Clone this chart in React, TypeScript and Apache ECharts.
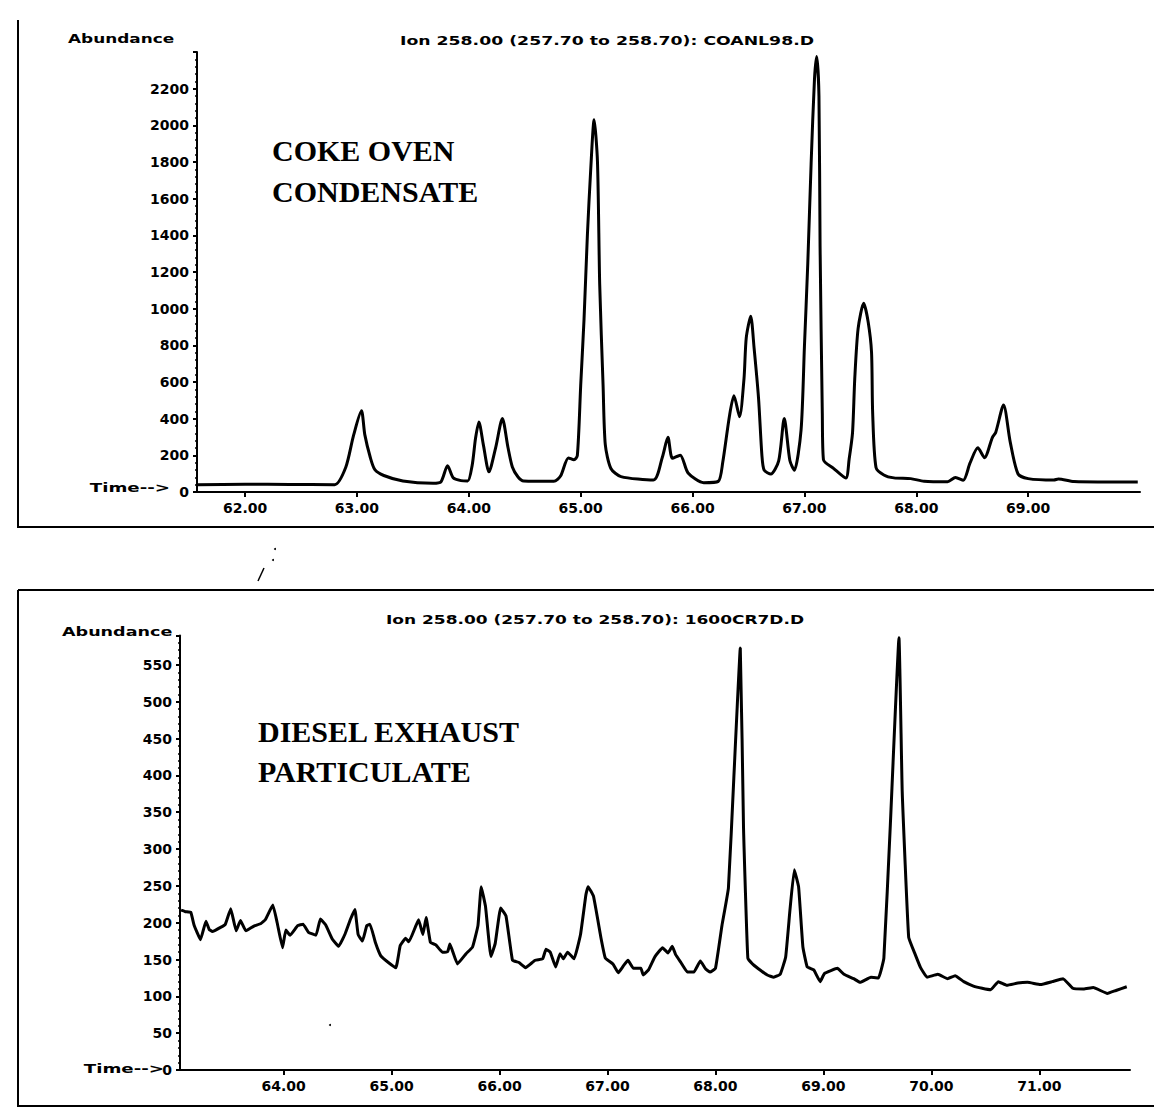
import React, { useEffect, useRef } from "react";
import * as echarts from "echarts";

// Coke oven condensate, ion 258 trace: retention time (min) and abundance
const cokeTime = [
  61.57, 62.0, 62.4, 62.8, 62.9, 62.97, 63.04, 63.07, 63.12, 63.16, 63.24, 63.41, 63.68,
  63.75, 63.81, 63.86, 63.93, 63.99, 64.03, 64.06, 64.09, 64.13, 64.18, 64.24, 64.3, 64.35,
  64.39, 64.44, 64.49, 64.76, 64.82, 64.89, 64.94, 64.97, 65.0, 65.03, 65.06, 65.09, 65.12,
  65.15, 65.17, 65.2, 65.22, 65.27, 65.36, 65.65, 65.73, 65.78, 65.82, 65.89, 65.96, 66.1,
  66.23, 66.27, 66.33, 66.37, 66.42, 66.46, 66.48, 66.52, 66.55, 66.59, 66.62, 66.64, 66.7,
  66.77, 66.82, 66.87, 66.91, 66.97, 67.0, 67.03, 67.06, 67.09, 67.11, 67.13, 67.14, 67.16,
  67.17, 67.26, 67.37, 67.4, 67.43, 67.45, 67.48, 67.53, 67.57, 67.6, 67.61, 67.64, 67.71,
  67.8, 67.95, 68.07, 68.28, 68.35, 68.42, 68.48, 68.55, 68.61, 68.68, 68.71, 68.78, 68.84,
  68.91, 69.0, 69.23, 69.27, 69.41, 69.98,
];
const cokeAbund = [
  40, 42, 41, 40, 135, 310, 443, 313, 187, 122, 90, 60, 48,
  55, 143, 78, 62, 60, 146, 293, 382, 257, 110, 242, 401, 243,
  135, 82, 60, 58, 87, 186, 176, 198, 580, 943, 1403, 1763, 2031,
  1803, 1131, 585, 258, 128, 84, 65, 190, 298, 184, 201, 104, 51,
  58, 162, 415, 525, 411, 619, 841, 959, 786, 511, 200, 119, 98,
  170, 401, 172, 118, 337, 791, 1245, 1792, 2252, 2375, 2160, 1340, 428,
  177, 129, 76, 180, 322, 617, 891, 1029, 927, 762, 434, 134, 93,
  77, 73, 59, 56, 79, 64, 157, 241, 187, 297, 325, 474, 272,
  98, 73, 65, 71, 57, 54,
];

// Diesel exhaust particulate, ion 258 trace
const dieselTime = [
  63.05, 63.09, 63.14, 63.17, 63.23, 63.28, 63.31, 63.34, 63.42, 63.46, 63.51, 63.56, 63.6,
  63.65, 63.72, 63.79, 63.83, 63.9, 63.94, 63.99, 64.02, 64.06, 64.13, 64.18, 64.23, 64.3,
  64.34, 64.39, 64.45, 64.51, 64.57, 64.62, 64.66, 64.69, 64.73, 64.77, 64.8, 64.85, 64.9,
  64.97, 65.04, 65.08, 65.13, 65.16, 65.22, 65.25, 65.29, 65.32, 65.36, 65.41, 65.47, 65.52,
  65.54, 65.61, 65.69, 65.75, 65.8, 65.83, 65.87, 65.92, 65.96, 66.01, 66.06, 66.12, 66.18,
  66.24, 66.33, 66.4, 66.43, 66.47, 66.52, 66.56, 66.59, 66.63, 66.69, 66.75, 66.8, 66.82,
  66.87, 66.94, 66.98, 67.05, 67.1, 67.15, 67.19, 67.24, 67.31, 67.33, 67.38, 67.44, 67.51,
  67.56, 67.6, 67.63, 67.68, 67.74, 67.8, 67.86, 67.91, 67.95, 68.0, 68.06, 68.12, 68.17,
  68.23, 68.26, 68.3, 68.35, 68.42, 68.48, 68.54, 68.6, 68.65, 68.69, 68.73, 68.77, 68.81,
  68.85, 68.91, 68.97, 69.01, 69.13, 69.19, 69.28, 69.34, 69.44, 69.51, 69.56, 69.62, 69.7,
  69.73, 69.79, 69.85, 69.9, 69.96, 70.06, 70.15, 70.22, 70.3, 70.39, 70.47, 70.55, 70.62,
  70.7, 70.8, 70.89, 71.01, 71.12, 71.22, 71.31, 71.41, 71.5, 71.63, 71.71, 71.81,
];
const dieselAbund = [
  217, 215, 214, 197, 177, 202, 191, 188, 194, 198, 219, 189, 203,
  189, 195, 199, 204, 224, 200, 166, 190, 183, 196, 198, 187, 183,
  205, 197, 178, 168, 185, 205, 218, 184, 175, 196, 198, 173, 155,
  146, 139, 169, 179, 174, 194, 204, 184, 207, 173, 170, 160, 161,
  171, 144, 158, 167, 196, 249, 222, 154, 172, 220, 209, 149, 146,
  139, 149, 151, 164, 160, 140, 158, 151, 160, 151, 184, 238, 249,
  236, 179, 152, 144, 132, 142, 149, 138, 138, 129, 136, 154, 166,
  159, 168, 157, 146, 133, 133, 148, 137, 133, 138, 196, 247, 396,
  573, 329, 152, 143, 135, 129, 126, 130, 153, 217, 272, 249, 167,
  140, 136, 120, 131, 138, 130, 124, 119, 126, 125, 152, 333, 587,
  378, 180, 157, 139, 126, 130, 124, 128, 120, 114, 111, 109, 120,
  115, 118, 119, 116, 120, 124, 111, 110, 112, 104, 108, 113,
];

// Axis tick values
const cokeTimeTicks = [62, 63, 64, 65, 66, 67, 68, 69];
const dieselTimeTicks = [64, 65, 66, 67, 68, 69, 70, 71];

const labelFont = {
  color: "#000",
  fontFamily: "DejaVu Sans",
  fontWeight: "bold" as const,
  fontSize: 14,
};

const blackLine = { color: "#000", width: 2 };

function xAxisFor(gridIndex: number, min: number, max: number, ticks: number[]) {
  return {
    gridIndex,
    type: "value" as const,
    min,
    max,
    axisLine: { show: true, lineStyle: blackLine },
    axisTick: { show: true, customValues: ticks, length: 5, lineStyle: blackLine },
    axisLabel: {
      ...labelFont,
      customValues: ticks,
      margin: 9,
      formatter: (v: number) => v.toFixed(2),
    },
    splitLine: { show: false },
  };
}

function yAxisFor(gridIndex: number, max: number, interval: number) {
  return {
    gridIndex,
    type: "value" as const,
    min: 0,
    max,
    interval,
    axisLine: { show: true, lineStyle: blackLine },
    axisTick: { show: true, length: 4, lineStyle: blackLine },
    minorTick: { show: true, splitNumber: 5, length: 2, lineStyle: { color: "#000", width: 1.5 } },
    axisLabel: {
      ...labelFont,
      margin: 8,
      showMaxLabel: false,
      formatter: (v: number) => (v % interval === 0 && v < max ? String(v) : ""),
    },
    splitLine: { show: false },
  };
}

function smallText(text: string, x: number, y: number, scaleX: number, align = "left") {
  return {
    type: "text",
    x,
    y,
    scaleX,
    style: {
      text,
      fill: "#000",
      fontFamily: "DejaVu Sans",
      fontWeight: "bold",
      fontSize: 13,
      align,
      textAlign: align,
      verticalAlign: "middle",
      textVerticalAlign: "middle",
    },
  };
}

function bigText(text: string, x: number, y: number) {
  return {
    type: "text",
    x,
    y,
    style: {
      text,
      fill: "#000",
      fontFamily: "Liberation Serif",
      fontWeight: "bold",
      fontSize: 30,
      align: "left",
      textAlign: "left",
      verticalAlign: "middle",
      textVerticalAlign: "middle",
    },
  };
}

function frameLine(points: number[][]) {
  return {
    type: "polyline",
    shape: { points },
    style: { stroke: "#000", lineWidth: 2, fill: "none" },
  };
}

export default function App() {
  const ref = useRef<HTMLDivElement>(null);

  useEffect(() => {
    if (!ref.current) return;
    const chart = echarts.init(ref.current, undefined, { renderer: "svg" });

    const cokeData = cokeTime.map((t, i) => [t, cokeAbund[i]]);
    const dieselData = dieselTime.map((t, i) => [t, dieselAbund[i]]);

    chart.setOption({
      animation: false,
      backgroundColor: "#fff",
      grid: [
        { left: 189, top: 44, width: 943, height: 440 },
        { left: 172, top: 627.5, width: 950, height: 434.5 },
      ],
      xAxis: [
        xAxisFor(0, 61.57, 70.0, cokeTimeTicks),
        xAxisFor(1, 63.04, 71.84, dieselTimeTicks),
      ],
      yAxis: [yAxisFor(0, 2400, 200), yAxisFor(1, 590, 50)],
      series: [
        {
          type: "line",
          xAxisIndex: 0,
          yAxisIndex: 0,
          data: cokeData,
          showSymbol: false,
          smooth: 0.25,
          lineStyle: { color: "#000", width: 3 },
        },
        {
          type: "line",
          xAxisIndex: 1,
          yAxisIndex: 1,
          data: dieselData,
          showSymbol: false,
          smooth: 0.1,
          lineStyle: { color: "#000", width: 3 },
        },
      ],
      graphic: [
        // panel frames
        frameLine([[10, 12], [10, 519], [1152, 519], [1152, 12]]),
        frameLine([[10, 582], [1152, 582], [1152, 1098], [10, 1098], [10, 582]]),
        // small pen marks between the panels
        { type: "line", shape: { x1: 250, y1: 573, x2: 256, y2: 560 }, style: { stroke: "#000", lineWidth: 1.5 } },
        { type: "circle", shape: { cx: 267, cy: 541, r: 1 }, style: { fill: "#000" } },
        { type: "circle", shape: { cx: 265, cy: 552, r: 1 }, style: { fill: "#000" } },
        { type: "circle", shape: { cx: 322, cy: 1017, r: 1 }, style: { fill: "#000" } },
        // headers
        smallText("Abundance", 60, 31, 1.3),
        smallText("Ion 258.00 (257.70 to 258.70): COANL98.D", 599, 33, 1.33, "center"),
        smallText("Time-->", 162, 479, 1.4, "right"),
        smallText("Abundance", 54, 624, 1.35),
        smallText("Ion 258.00 (257.70 to 258.70): 1600CR7D.D", 587, 612, 1.31, "center"),
        smallText("Time-->", 156, 1060, 1.4, "right"),
        // sample names
        bigText("COKE OVEN", 264, 142),
        bigText("CONDENSATE", 264, 183),
        bigText("DIESEL EXHAUST", 250, 723),
        bigText("PARTICULATE", 250, 763),
      ],
    });

    return () => chart.dispose();
  }, []);

  return <div ref={ref} style={{ width: 1146, height: 1104 }} />;
}
